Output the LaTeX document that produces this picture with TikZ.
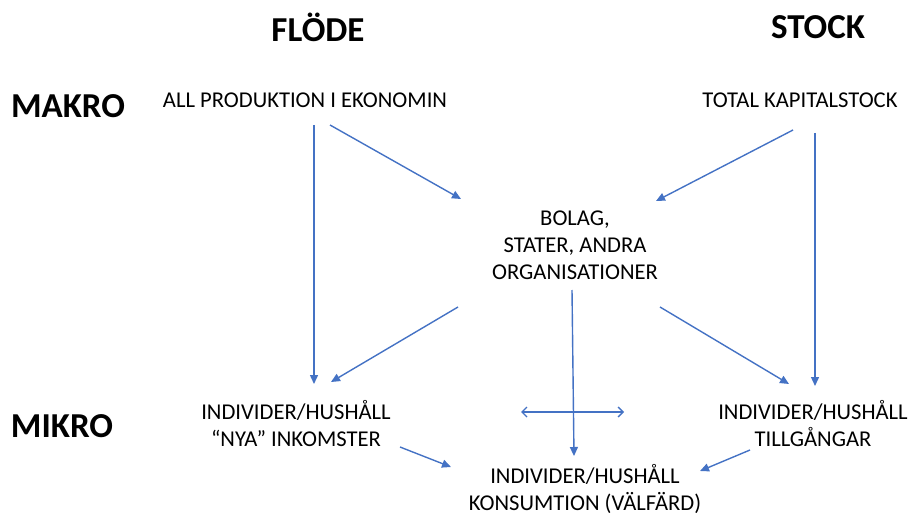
\documentclass[tikz,border=0pt]{standalone}
\usepackage{fontspec}
\setmainfont{Carlito}
\usetikzlibrary{arrows.meta}
\definecolor{arr}{HTML}{4472C4}
\tikzset{
  head/.style={font=\fontsize{35}{40}\selectfont\bfseries, inner sep=0pt, anchor=center},
  lbl/.style={font=\fontsize{22.6}{27}\selectfont, align=center, inner sep=0pt, anchor=center},
  conn/.style={draw=arr, line width=1.4pt, -{Triangle[length=9pt,width=8pt]}},
  dbl/.style={draw=arr, line width=1.4pt, {Straight Barb[length=5pt,width=10pt]}-{Straight Barb[length=5pt,width=10pt]}},
}
\begin{document}
\begin{tikzpicture}[x=1pt,y=-1pt]
\useasboundingbox (0,0) rectangle (909,513);
\node[head] (flode) at (318,27) {FLÖDE};
\node[head] (stock) at (818,27) {STOCK};
\node[head] (makro) at (68,106) {MAKRO};
\node[head] (mikro) at (62,426) {MIKRO};
\node[lbl] (prod) at (305,100) {ALL PRODUKTION I EKONOMIN};
\node[lbl] (kap) at (800,100) {TOTAL KAPITALSTOCK};
\node[lbl] (bolag) at (575,245) {BOLAG,\\STATER, ANDRA\\ORGANISATIONER};
\node[lbl] (ink) at (296,424) {INDIVIDER/HUSHÅLL\\“NYA” INKOMSTER};
\node[lbl] (till) at (813,424) {INDIVIDER/HUSHÅLL\\TILLGÅNGAR};
\node[lbl] (kons) at (585,489) {INDIVIDER/HUSHÅLL\\KONSUMTION (VÄLFÄRD)};
\coordinate (a1s) at (314,125); \coordinate (a1e) at (314,384);
\coordinate (a2s) at (330,125); \coordinate (a2e) at (461,199);
\coordinate (a3s) at (793,130); \coordinate (a3e) at (656,201);
\coordinate (a4s) at (815,133); \coordinate (a4e) at (815,386);
\coordinate (a5s) at (458,307); \coordinate (a5e) at (331,382);
\coordinate (a6s) at (660,307); \coordinate (a6e) at (789,384);
\coordinate (a7s) at (572,290); \coordinate (a7e) at (574,456);
\coordinate (d1) at (521,412); \coordinate (d2) at (624,412);
\coordinate (a9s) at (400,447); \coordinate (a9e) at (451,467);
\coordinate (a10s) at (750,450); \coordinate (a10e) at (700,471);
\draw[conn] (a1s) -- (a1e);
\draw[conn] (a2s) -- (a2e);
\draw[conn] (a3s) -- (a3e);
\draw[conn] (a4s) -- (a4e);
\draw[conn] (a5s) -- (a5e);
\draw[conn] (a6s) -- (a6e);
\draw[conn] (a7s) -- (a7e);
\draw[dbl] (d1) -- (d2);
\draw[conn] (a9s) -- (a9e);
\draw[conn] (a10s) -- (a10e);
\end{tikzpicture}
\end{document}
